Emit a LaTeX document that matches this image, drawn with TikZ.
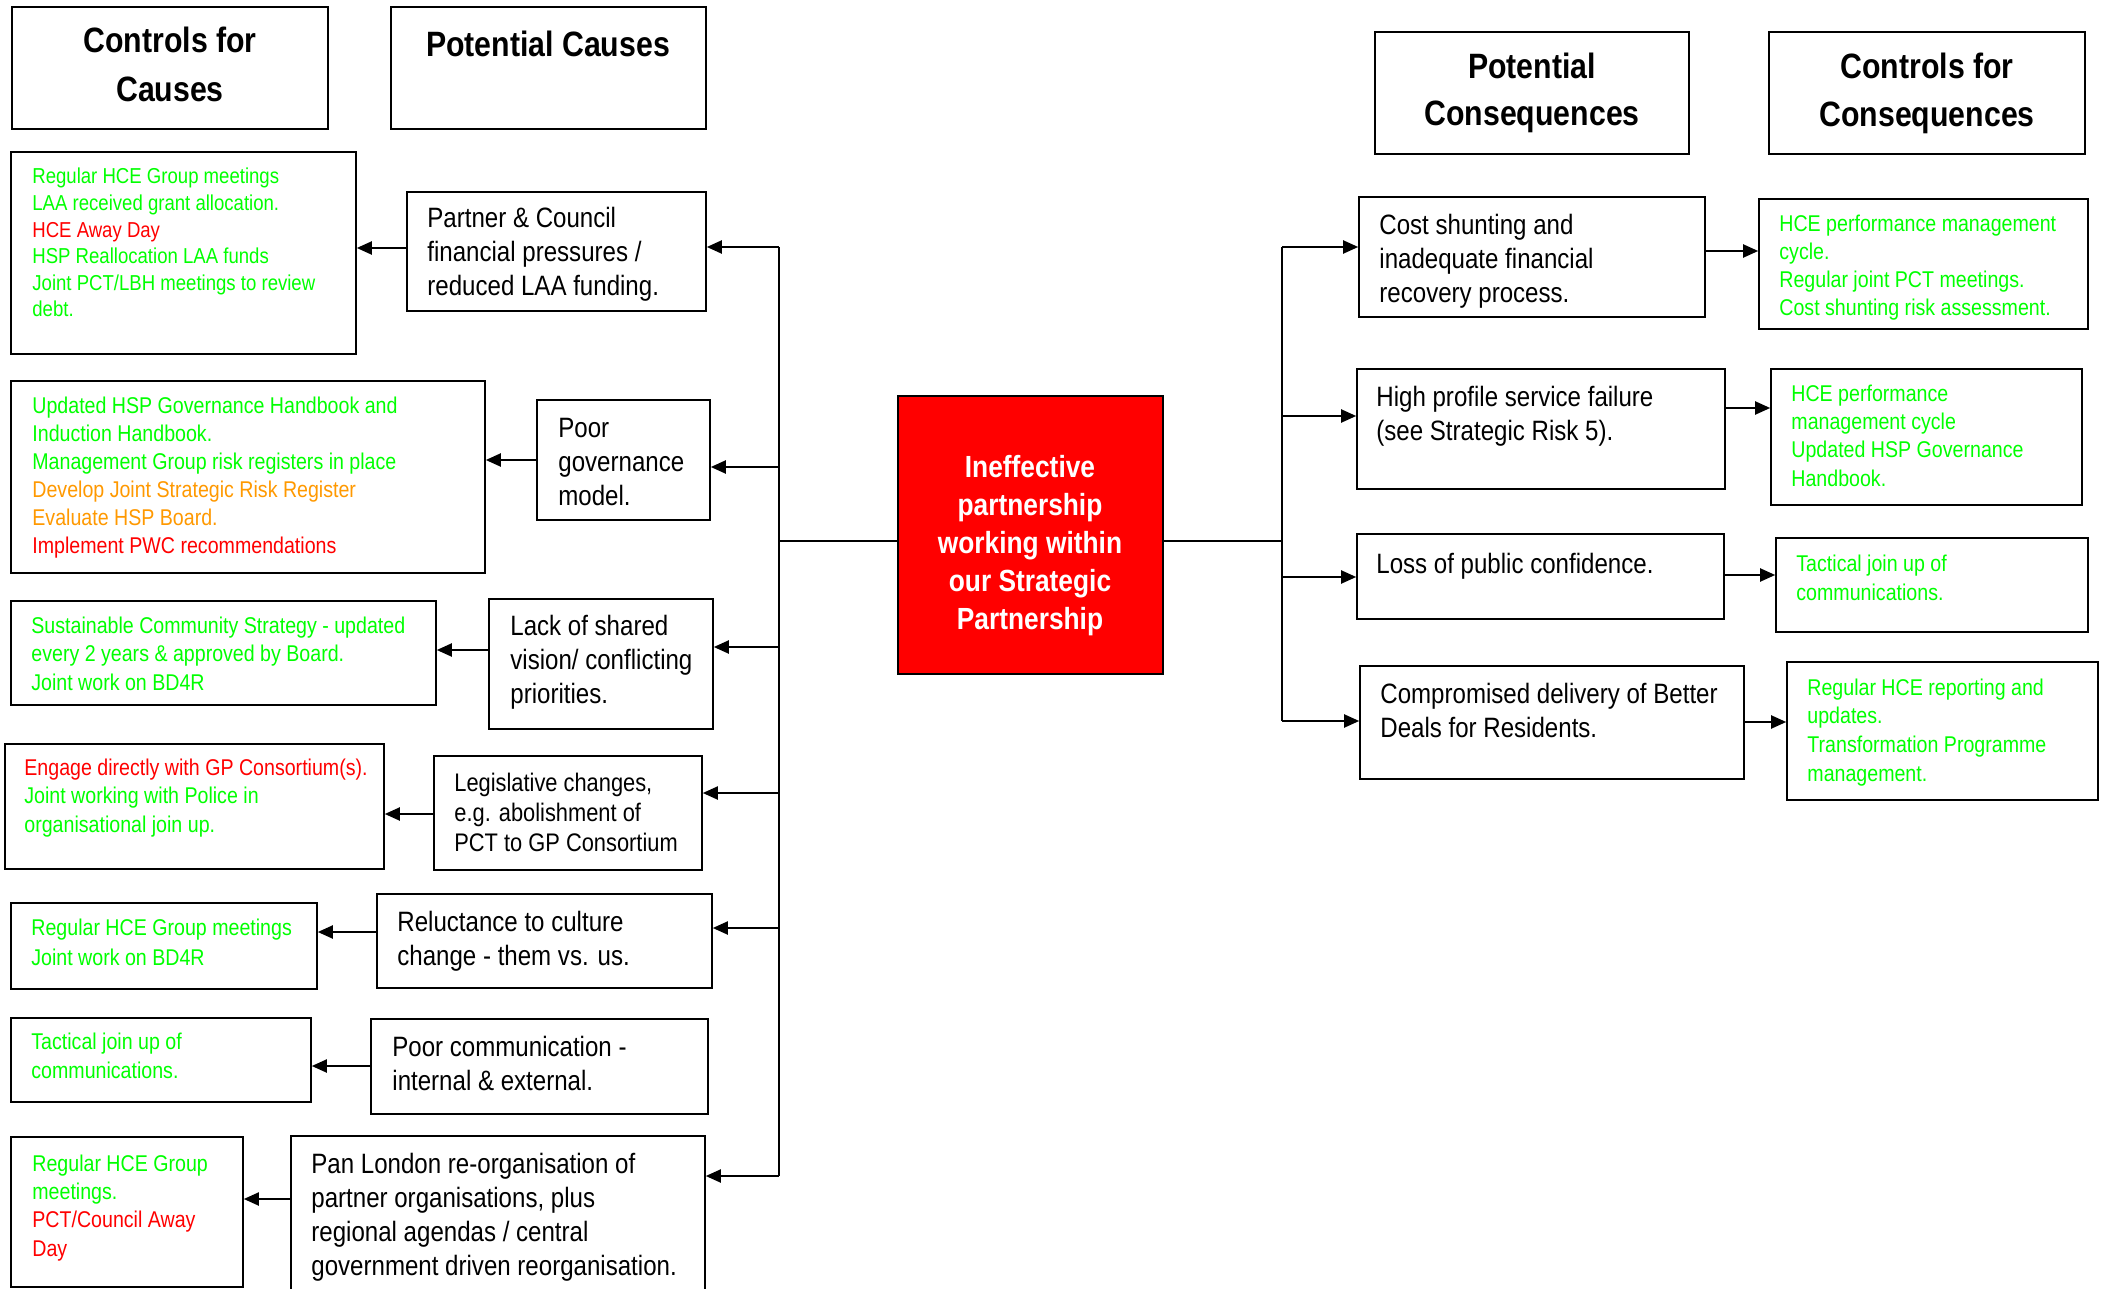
\documentclass[tikz,border=0pt]{standalone}
\usepackage{fontspec}
\setmainfont{Liberation Sans}[FakeStretch=0.86]
\usetikzlibrary{arrows.meta,fit}

\definecolor{ctlgreen}{RGB}{0,255,0}
\definecolor{ctlred}{RGB}{255,0,0}
\definecolor{ctlorange}{RGB}{255,153,0}
\definecolor{corered}{RGB}{255,0,0}

% text nodes are placed by the baseline of their last line
\tikzset{
  box/.style={draw=black, line width=0.8pt, inner sep=0pt, fill=white},
  txt/.style={anchor=base west, inner sep=0pt, align=left},
  causetxt/.style={txt, font=\fontsize{14}{17}\selectfont},
  ctltxt/.style={txt, font=\fontsize{11.4}{14.1}\selectfont, text=ctlgreen},
  headtxt/.style={anchor=base, inner sep=0pt, align=center,
    font=\fontsize{17.6}{24.5}\selectfont\bfseries},
  arr/.style={line width=1pt, -{Triangle[length=7.5pt,width=6.5pt]}},
  link/.style={line width=1pt},
  bus/.style={line width=1.2pt},
}

\begin{document}
\begin{tikzpicture}[x=0.5pt, y=-0.5pt]
\clip (0,0) rectangle (2105,1289);
\fill[white] (0,0) rectangle (2105,1289);

% column headings
\node[box, fit={(12,7) (328,129)}] (H1) {};
\node[headtxt] (H1t) at (170,102) {Controls for\\Causes};
\node[box, fit={(391,7) (706,129)}] (H2) {};
\node[headtxt] (H2t) at (548,57) {Potential Causes};
\node[box, fit={(1375,32) (1689,154)}] (H3) {};
\node[headtxt, font=\fontsize{17.6}{23.5}\selectfont\bfseries] (H3t) at (1532,126) {Potential\\Consequences};
\node[box, fit={(1769,32) (2085,154)}] (H4) {};
\node[headtxt, font=\fontsize{17.6}{24}\selectfont\bfseries] (H4t) at (1927,127) {Controls for\\Consequences};

% central risk
\node[box, fill=corered, fit={(898,396) (1163,674)}] (core) {};
\node[anchor=base, inner sep=0pt, align=center, text=white,
  font=\fontsize{15.3}{19}\selectfont\bfseries] (coret) at (1030,629)
  {Ineffective\\partnership\\working within\\our Strategic\\Partnership};

% potential causes
\node[box, fit={(407,192) (706,311)}] (P1) {};
\node[causetxt] (P1t) at (427,296) {Partner \& Council\\financial pressures /\\reduced LAA funding.};
\node[box, fit={(537,400) (710,520)}] (P2) {};
\node[causetxt] (P2t) at (558,505) {Poor\\governance\\model.};
\node[box, fit={(489,599) (713,729)}] (P3) {};
\node[causetxt] (P3t) at (510,703) {Lack of shared\\vision/ conflicting\\priorities.};
\node[box, fit={(434,756) (702,870)}] (P4) {};
\node[causetxt, font=\fontsize{12.7}{15}\selectfont] (P4t) at (454,851) {Legislative changes,\\e.g. abolishment of\\PCT to GP Consortium};
\node[box, fit={(377,894) (712,988)}] (P5) {};
\node[causetxt] (P5t) at (397,965) {Reluctance to culture\\change - them vs. us.};
\node[box, fit={(371,1019) (708,1114)}] (P6) {};
\node[causetxt] (P6t) at (392,1090) {Poor communication -\\internal \& external.};
\node[box, fit={(291,1136) (705,1310)}] (P7) {};
\node[causetxt] (P7t) at (311,1275) {Pan London re-organisation of\\partner organisations, plus\\regional agendas / central\\government driven reorganisation.};

% controls for causes
\node[box, fit={(11,152) (356,354)}] (C1) {};
\node[ctltxt, font=\fontsize{10.8}{13.3}\selectfont] (C1t) at (32,317) {Regular HCE Group meetings\\LAA received grant allocation.\\\textcolor{ctlred}{HCE Away Day}\\HSP Reallocation LAA funds\\Joint PCT/LBH meetings to review\\debt.};
\node[box, fit={(11,381) (485,573)}] (C2) {};
\node[ctltxt, font=\fontsize{11.4}{14}\selectfont] (C2t) at (32,553) {Updated HSP Governance Handbook and\\Induction Handbook.\\Management Group risk registers in place\\\textcolor{ctlorange}{Develop Joint Strategic Risk Register}\\\textcolor{ctlorange}{Evaluate HSP Board.}\\\textcolor{ctlred}{Implement PWC recommendations}};
\node[box, fit={(11,601) (436,705)}] (C3) {};
\node[ctltxt] (C3t) at (31,690) {Sustainable Community Strategy - updated\\every 2 years \& approved by Board.\\Joint work on BD4R};
\node[box, fit={(5,744) (384,869)}] (C4) {};
\node[ctltxt] (C4t) at (24,832) {\textcolor{ctlred}{Engage directly with GP Consortium(s).}\\Joint working with Police in\\organisational join up.};
\node[box, fit={(11,903) (317,989)}] (C5) {};
\node[ctltxt, font=\fontsize{11.4}{14.6}\selectfont] (C5t) at (31,965) {Regular HCE Group meetings\\Joint work on BD4R};
\node[box, fit={(11,1018) (311,1102)}] (C6) {};
\node[ctltxt] (C6t) at (31,1078) {Tactical join up of\\communications.};
\node[box, fit={(11,1137) (243,1287)}] (C7) {};
\node[ctltxt] (C7t) at (32,1256) {Regular HCE Group\\meetings.\\\textcolor{ctlred}{PCT/Council Away}\\\textcolor{ctlred}{Day}};

% potential consequences
\node[box, fit={(1359,197) (1705,317)}] (Q1) {};
\node[causetxt] (Q1t) at (1379,303) {Cost shunting and\\inadequate financial\\recovery process.};
\node[box, fit={(1357,369) (1725,489)}] (Q2) {};
\node[causetxt] (Q2t) at (1376,440) {High profile service failure\\(see Strategic Risk 5).};
\node[box, fit={(1357,534) (1724,619)}] (Q3) {};
\node[causetxt] (Q3t) at (1376,573) {Loss of public confidence.};
\node[box, fit={(1360,666) (1744,779)}] (Q4) {};
\node[causetxt] (Q4t) at (1380,737) {Compromised delivery of Better\\Deals for Residents.};

% controls for consequences
\node[box, fit={(1759,199) (2088,329)}] (R1) {};
\node[ctltxt, font=\fontsize{11.4}{13.9}\selectfont] (R1t) at (1779,315) {HCE performance management\\cycle.\\Regular joint PCT meetings.\\Cost shunting risk assessment.};
\node[box, fit={(1771,369) (2082,505)}] (R2) {};
\node[ctltxt] (R2t) at (1791,486) {HCE performance\\management cycle\\Updated HSP Governance\\Handbook.};
\node[box, fit={(1776,538) (2088,632)}] (R3) {};
\node[ctltxt] (R3t) at (1796,600) {Tactical join up of\\communications.};
\node[box, fit={(1787,662) (2098,800)}] (R4) {};
\node[ctltxt, font=\fontsize{11.4}{14.3}\selectfont] (R4t) at (1807,781) {Regular HCE reporting and\\updates.\\Transformation Programme\\management.};

% left distribution bus
\coordinate (lbus) at (779,541);
\draw[link] (core.west |- lbus) -- (lbus);
\draw[bus] (lbus |- 0,247) -- (lbus |- 0,1176);
\draw[arr] (lbus |- 0,247) -- (P1.east |- 0,247);
\draw[arr] (lbus |- 0,467) -- (P2.east |- 0,467);
\draw[arr] (lbus |- 0,647) -- (P3.east |- 0,647);
\draw[arr] (lbus |- 0,793) -- (P4.east |- 0,793);
\draw[arr] (lbus |- 0,928) -- (P5.east |- 0,928);
\draw[arr] (lbus |- 0,1176) -- (P7.east |- 0,1176);

% causes to their controls
\draw[arr] (P1.west |- 0,248) -- (C1.east |- 0,248);
\draw[arr] (P2.west |- 0,460) -- (C2.east |- 0,460);
\draw[arr] (P3.west |- 0,650) -- (C3.east |- 0,650);
\draw[arr] (P4.west |- 0,814) -- (C4.east |- 0,814);
\draw[arr] (P5.west |- 0,932) -- (C5.east |- 0,932);
\draw[arr] (P6.west |- 0,1066) -- (C6.east |- 0,1066);
\draw[arr] (P7.west |- 0,1199) -- (C7.east |- 0,1199);

% right distribution bus
\coordinate (rbus) at (1282,541);
\draw[link] (core.east |- rbus) -- (rbus);
\draw[bus] (rbus |- 0,247) -- (rbus |- 0,721);
\draw[arr] (rbus |- 0,247) -- (Q1.west |- 0,247);
\draw[arr] (rbus |- 0,416) -- (Q2.west |- 0,416);
\draw[arr] (rbus |- 0,577) -- (Q3.west |- 0,577);
\draw[arr] (rbus |- 0,721) -- (Q4.west |- 0,721);

% consequences to their controls
\draw[arr] (Q1.east |- 0,251) -- (R1.west |- 0,251);
\draw[arr] (Q2.east |- 0,408) -- (R2.west |- 0,408);
\draw[arr] (Q3.east |- 0,575) -- (R3.west |- 0,575);
\draw[arr] (Q4.east |- 0,722) -- (R4.west |- 0,722);
\end{tikzpicture}
\end{document}
